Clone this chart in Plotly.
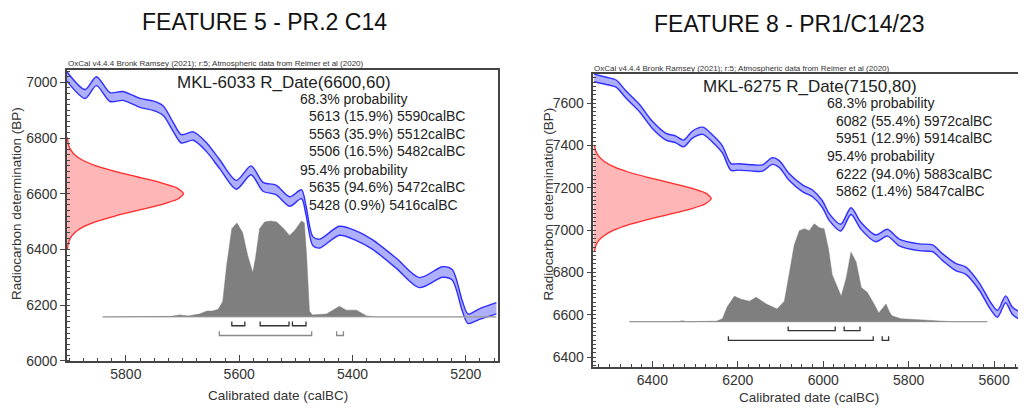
import plotly.graph_objects as go

# page body has an 8px margin: figure is drawn at (8, 8) inside a 1026x412 window
OFF = 8
W, H = 1026 - OFF, 412 - OFF

# ---------------- Panel titles / texts ----------------
title_left = "FEATURE 5 - PR.2 C14"
title_right = "FEATURE 8 - PR1/C14/23"
credit = "OxCal v4.4.4 Bronk Ramsey (2021); r:5; Atmospheric data from Reimer et al (2020)"
name_left = "MKL-6033 R_Date(6600,60)"
name_right = "MKL-6275 R_Date(7150,80)"
stats_left = ["68.3% probability", "5613 (15.9%) 5590calBC", "5563 (35.9%) 5512calBC",
              "5506 (16.5%) 5482calBC", "95.4% probability", "5635 (94.6%) 5472calBC",
              "5428 (0.9%) 5416calBC"]
stats_right = ["68.3% probability", "6082 (55.4%) 5972calBC", "5951 (12.9%) 5914calBC",
               "95.4% probability", "6222 (94.0%) 5883calBC", "5862 (1.4%) 5847calBC"]

# ---------------- Left panel data ----------------
curve_L_year = [5904, 5872, 5852, 5828, 5805, 5775, 5752, 5734, 5717, 5702, 5681, 5658, 5634,
                5605, 5579, 5558, 5535, 5511, 5490, 5482, 5470, 5458, 5423, 5393, 5365, 5323,
                5282, 5241, 5224, 5206, 5196, 5176, 5146]
curve_L_bp = [7021, 6958, 7004, 6947, 6951, 6926, 6916, 6898, 6842, 6797, 6807, 6768, 6705,
              6632, 6684, 6625, 6614, 6572, 6598, 6540, 6430, 6421, 6467, 6449, 6418, 6351,
              6281, 6319, 6309, 6196, 6151, 6168, 6189]
curve_L_sig = [17, 16, 16, 16, 16, 16, 17, 17, 16, 15, 15, 16, 16,
               16, 16, 16, 17, 17, 16, 16, 16, 16, 16, 17, 17, 18,
               18, 19, 19, 18, 17, 19, 20]

red_L_bp = [6400, 6420, 6440, 6460, 6480, 6500, 6520, 6540, 6560, 6580, 6600,
            6620, 6640, 6660, 6680, 6700, 6720, 6740, 6760, 6780, 6800]
red_L_h = [0.004, 0.011, 0.029, 0.066, 0.135, 0.249, 0.411, 0.607, 0.801, 0.946, 1.0,
           0.946, 0.801, 0.607, 0.411, 0.249, 0.135, 0.066, 0.029, 0.011, 0.004]

dist_L_year = [5841, 5760, 5720, 5705, 5690, 5670, 5657, 5647, 5637, 5629, 5622, 5613, 5604,
               5594, 5585, 5576, 5571, 5564, 5555, 5545, 5534, 5523, 5511, 5502, 5490, 5485,
               5481, 5476, 5471, 5446, 5423, 5411, 5393, 5375, 5360, 5146]
dist_L_h = [0.0, 0.0, 0.005, 0.02, 0.01, 0.03, 0.06, 0.06, 0.08, 0.16, 0.54, 0.92, 0.98,
            0.88, 0.64, 0.46, 0.62, 0.92, 0.99, 1.0, 0.99, 0.93, 0.85, 0.90, 1.0, 0.98,
            0.64, 0.06, 0.02, 0.03, 0.11, 0.07, 0.07, 0.01, 0.0, 0.0]

range68_L = [(5613, 5590), (5563, 5512), (5506, 5482)]
range95_L = [(5635, 5472), (5428, 5416)]

# ---------------- Right panel data ----------------
curve_R_year = [6536, 6508, 6485, 6462, 6430, 6400, 6368, 6345, 6327, 6306, 6282, 6259, 6236,
                6216, 6197, 6165, 6142, 6119, 6103, 6080, 6048, 6025, 6002, 5986, 5959, 5935,
                5912, 5877, 5850, 5822, 5776, 5744, 5721, 5690, 5666, 5635, 5608, 5592, 5573,
                5557, 5542, 5530]
curve_R_bp = [7720, 7706, 7693, 7642, 7577, 7498, 7442, 7429, 7410, 7452, 7470, 7433, 7382,
              7299, 7299, 7294, 7294, 7327, 7313, 7252, 7197, 7174, 7123, 7062, 7012, 7090,
              7021, 6961, 6988, 6942, 6919, 6914, 6873, 6826, 6808, 6734, 6641, 6604, 6673,
              6618, 6599, 6595]
curve_R_sig = [18, 17, 17, 17, 17, 17, 16, 16, 16, 17, 17, 17, 17,
               16, 15, 15, 15, 16, 16, 16, 16, 16, 16, 16, 16, 16,
               16, 16, 16, 16, 16, 16, 16, 17, 17, 17, 17, 16, 16,
               17, 18, 18]

red_R_bp = [6900, 6925, 6950, 6975, 7000, 7025, 7050, 7075, 7100, 7125, 7150,
            7175, 7200, 7225, 7250, 7275, 7300, 7325, 7350, 7375, 7400]
red_R_h = [0.008, 0.019, 0.044, 0.092, 0.172, 0.295, 0.458, 0.644, 0.823, 0.952, 1.0,
           0.952, 0.823, 0.644, 0.458, 0.295, 0.172, 0.092, 0.044, 0.019, 0.008]

dist_R_year = [6454, 6340, 6330, 6320, 6250, 6236, 6225, 6208, 6192, 6173, 6157, 6133, 6108,
               6091, 6080, 6068, 6056, 6044, 6033, 6021, 6009, 5998, 5988, 5979, 5958, 5946,
               5935, 5923, 5911, 5897, 5881, 5870, 5853, 5845, 5839, 5818, 5776, 5736, 5700,
               5616]
dist_R_h = [0.0, 0.0, 0.01, 0.0, 0.005, 0.03, 0.15, 0.26, 0.23, 0.21, 0.25, 0.18, 0.13,
            0.21, 0.48, 0.78, 0.93, 0.95, 0.93, 1.0, 0.96, 0.95, 0.75, 0.48, 0.26, 0.45,
            0.71, 0.61, 0.35, 0.30, 0.18, 0.09, 0.18, 0.10, 0.06, 0.03, 0.02, 0.01, 0.0,
            0.0]

range68_R = [(6082, 5972), (5951, 5914)]
range95_R = [(6222, 5883), (5862, 5847)]

# ---------------- Axis settings ----------------
xr_L = [5904, 5144]
yr_L = [6000, 7045]
xr_R = [6538, 5530]
yr_R = [6354, 7740]

BLUE_LINE = "#2e2eff"
BLUE_FILL = "rgba(110,110,255,0.55)"
RED_LINE = "#ff2a2a"
RED_FILL = "rgba(255,110,110,0.5)"
GREY = "#7f7f7f"

fig = go.Figure()


def add_panel(xa, ya, cy, cb, cs, rbp, rh, rwidth, x0, dy, dh, base, hscale,
              r68, r95, lvl68, lvl95, tick, col95):
    lower = [b - s for b, s in zip(cb, cs)]
    upper = [b + s for b, s in zip(cb, cs)]
    fig.add_trace(go.Scatter(x=cy, y=lower, mode="lines", xaxis=xa, yaxis=ya,
                             line=dict(color=BLUE_LINE, width=1.4, shape="spline", smoothing=0.8),
                             hoverinfo="skip"))
    fig.add_trace(go.Scatter(x=cy, y=upper, mode="lines", xaxis=xa, yaxis=ya, fill="tonexty",
                             fillcolor=BLUE_FILL,
                             line=dict(color=BLUE_LINE, width=1.4, shape="spline", smoothing=0.8),
                             hoverinfo="skip"))
    # radiocarbon measurement (red) on the y axis
    rx = [x0 - h * rwidth for h in rh]
    fig.add_trace(go.Scatter(x=[x0] + rx + [x0], y=[rbp[0]] + rbp + [rbp[-1]], mode="lines",
                             xaxis=xa, yaxis=ya, fill="toself", fillcolor=RED_FILL,
                             line=dict(color=RED_LINE, width=1.3, shape="spline", smoothing=0.6),
                             hoverinfo="skip"))
    # calibrated distribution (grey)
    fig.add_trace(go.Scatter(x=[dy[0], dy[-1]], y=[base, base], mode="lines",
                             xaxis=xa, yaxis=ya, line=dict(color="#b0b0b0", width=1.2),
                             hoverinfo="skip"))
    gy = [base + h * hscale for h in dh]
    fig.add_trace(go.Scatter(x=dy, y=gy, mode="lines", xaxis=xa, yaxis=ya, fill="toself",
                             fillcolor=GREY, line=dict(color=GREY, width=0.5),
                             hoverinfo="skip"))
    # range brackets
    for ranges, lvl, col in ((r68, lvl68, "#333333"), (r95, lvl95, col95)):
        bx, by = [], []
        for a, b in ranges:
            bx += [a, a, b, b, None]
            by += [lvl + tick, lvl, lvl, lvl + tick, None]
        fig.add_trace(go.Scatter(x=bx, y=by, mode="lines", xaxis=xa, yaxis=ya,
                                 line=dict(color=col, width=1.3), hoverinfo="skip"))


add_panel("x", "y", curve_L_year, curve_L_bp, curve_L_sig, red_L_bp, red_L_h, 206, xr_L[0],
          dist_L_year, dist_L_h, 6158, 344, range68_L, range95_L, 6126, 6091, 15, "#8a8a8a")
add_panel("x2", "y2", curve_R_year, curve_R_bp, curve_R_sig, red_R_bp, red_R_h, 276, xr_R[0],
          dist_R_year, dist_R_h, 6567, 463, range68_R, range95_R, 6525, 6479, 19, "#333333")


def fx(x):
    return (x - OFF) / W


def fy(y):
    return 1 - (y - OFF) / H


axis_common = dict(showline=True, linecolor="#444", linewidth=1.5, mirror=True,
                   showgrid=False, zeroline=False, tickcolor="#444", tickwidth=1.2,
                   tickfont=dict(size=14, color="#333"))

fig.update_layout(
    width=W, height=H, margin=dict(l=0, r=0, t=0, b=0),
    paper_bgcolor="white", plot_bgcolor="white", showlegend=False,
    font=dict(family="Liberation Sans, Arial, sans-serif", color="#222"),
    xaxis=dict(domain=[fx(67), fx(498)], range=xr_L, anchor="y", ticks="inside", ticklen=6,
               tick0=0, dtick=200,
               minor=dict(dtick=25, tick0=0, ticks="inside", ticklen=3, tickcolor="#444"),
               **axis_common),
    yaxis=dict(domain=[fy(368), fy(71)], range=yr_L, anchor="x", ticks="outside",
               ticklen=5, tick0=0, dtick=200,
               minor=dict(dtick=20, tick0=0, ticks="inside", ticklen=3, tickcolor="#444"),
               **axis_common),
    xaxis2=dict(domain=[fx(594), min(1.0, fx(1025))], range=xr_R, anchor="y2", ticks="inside",
                ticklen=6, tick0=0, dtick=200,
                minor=dict(dtick=25, tick0=0, ticks="inside", ticklen=3, tickcolor="#444"),
                **axis_common),
    yaxis2=dict(domain=[fy(374), fy(75)], range=yr_R, anchor="x2", ticks="outside",
                ticklen=5, tick0=0, dtick=200,
                minor=dict(dtick=20, tick0=0, ticks="inside", ticklen=3, tickcolor="#444"),
                **axis_common),
)

ann = []


def text(t, x, y, size, xanchor="left", color="#222", angle=0):
    ann.append(dict(text=t, x=fx(x), y=fy(y), xref="paper", yref="paper", xanchor=xanchor,
                    yanchor="middle", showarrow=False, textangle=angle,
                    font=dict(size=size, color=color)))


text(title_left, 265, 22, 23, "center", "#111")
text(title_right, 790, 24, 23, "center", "#111")
text(credit, 66, 65, 8, "left", "#333")
text(credit, 593, 70, 8, "left", "#333")

text(name_left, 175, 84, 17)
ys_L = [101, 118, 137, 154, 173, 191, 209]
for s, yy in zip(stats_left, ys_L):
    text(s, 298 if "probability" in s else 307, yy, 14)

text(name_right, 702, 88, 17)
ys_R = [105, 123, 141, 159, 177, 195]
for s, yy in zip(stats_right, ys_R):
    text(s, 826 if "probability" in s else 835, yy, 14)

text("Radiocarbon determination (BP)", 16, 207, 13.5, "center", "#333", -90)
text("Radiocarbon determination (BP)", 549, 208, 13.5, "center", "#333", -90)
text("Calibrated date (calBC)", 278, 403, 13.5, "center", "#333")
text("Calibrated date (calBC)", 810, 405, 13.5, "center", "#333")

fig.update_layout(annotations=ann)
fig.write_html("out.html")
